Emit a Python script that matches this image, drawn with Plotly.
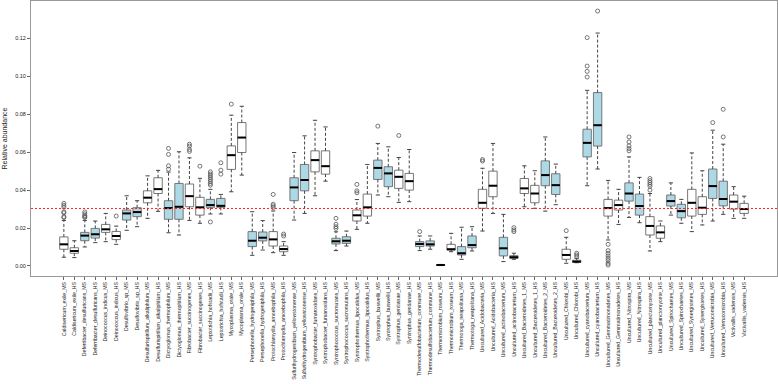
import plotly.graph_objects as go

names = [
    "Caldisericum_exile_MS", "Caldisericum_exile_HS",
    "Deferribacter_desulfuricans_MS", "Deferribacter_desulfuricans_HS",
    "Deinococcus_indicus_MS", "Deinococcus_indicus_HS",
    "Desulfovibrio_sp_MS", "Desulfovibrio_sp_HS",
    "Desulfurispirillum_alkaliphilum_MS", "Desulfurispirillum_alkaliphilum_HS",
    "Dictyoglomus_thermophilum_MS", "Dictyoglomus_thermophilum_HS",
    "Fibrobacter_succinogenes_MS", "Fibrobacter_succinogenes_HS",
    "Leptotrichia_hofstadii_MS", "Leptotrichia_hofstadii_HS",
    "Mycoplasma_orale_MS", "Mycoplasma_orale_HS",
    "Persephonella_hydrogeniphila_MS", "Persephonella_hydrogeniphila_HS",
    "Protochlamydia_amoebophila_MS", "Protochlamydia_amoebophila_HS",
    "Sulfurihydrogenibium_yellowstonense_MS", "Sulfurihydrogenibium_yellowstonense_HS",
    "Syntrophobacter_fumaroxidans_MS", "Syntrophobacter_fumaroxidans_HS",
    "Syntrophococcus_sucromutans_MS", "Syntrophococcus_sucromutans_HS",
    "Syntrophothermus_lipocalidus_MS", "Syntrophothermus_lipocalidus_HS",
    "Syntrophus_buswellii_MS", "Syntrophus_buswellii_HS",
    "Syntrophus_gentianae_MS", "Syntrophus_gentianae_HS",
    "Thermodesulfobacterium_commune_MS", "Thermodesulfobacterium_commune_HS",
    "Thermomicrobium_roseum_MS", "Thermomicrobium_roseum_HS",
    "Thermotoga_neapolitana_MS", "Thermotoga_neapolitana_HS",
    "Uncultured_Acidobacteria_MS", "Uncultured_Acidobacteria_HS",
    "Uncultured_actinobacterium_MS", "Uncultured_actinobacterium_HS",
    "Uncultured_Bacteroidetes_1_MS", "Uncultured_Bacteroidetes_1_HS",
    "Uncultured_Bacteroidetes_2_MS", "Uncultured_Bacteroidetes_2_HS",
    "Uncultured_Chlorobi_MS", "Uncultured_Chlorobi_HS",
    "Uncultured_cyanobacterium_MS", "Uncultured_cyanobacterium_HS",
    "Uncultured_Gemmatimonadetes_MS", "Uncultured_Gemmatimonadetes_HS",
    "Uncultured_Nitrospira_MS", "Uncultured_Nitrospira_HS",
    "Uncultured_planctomycete_MS", "Uncultured_planctomycete_HS",
    "Uncultured_Spirochaetes_MS", "Uncultured_Spirochaetes_HS",
    "Uncultured_Synergistetes_MS", "Uncultured_Synergistetes_HS",
    "Uncultured_Verrucomicrobia_MS", "Uncultured_Verrucomicrobia_HS",
    "Victivallis_vadensis_MS", "Victivallis_vadensis_HS",
]

lower = [0.0046, 0.0044, 0.0100, 0.0123, 0.0128, 0.0114, 0.0188, 0.0207, 0.0251, 0.0288,
         0.0175, 0.0163, 0.0240, 0.0225, 0.0274, 0.0274, 0.0391, 0.0479, 0.0056, 0.0084,
         0.0070, 0.0056, 0.0242, 0.0277, 0.0370, 0.0447, 0.0081, 0.0105, 0.0193, 0.0225,
         0.0374, 0.0365, 0.0335, 0.0339, 0.0081, 0.0088, 0.0002, 0.0075, 0.0035, 0.0079,
         0.0184, 0.0277, 0.0023, 0.0035, 0.0312, 0.0304, 0.0289, 0.0323, 0.0014, 0.0017,
         0.0423, 0.0511, 0.0137, 0.0219, 0.0256, 0.0228, 0.0079, 0.0128, 0.0268, 0.0225,
         0.0181, 0.0216, 0.0237, 0.0272, 0.0251, 0.0251]
q1 = [0.0088, 0.0067, 0.0133, 0.0147, 0.0177, 0.0139, 0.0242, 0.0260, 0.0333, 0.0382,
      0.0246, 0.0246, 0.0312, 0.0268, 0.0309, 0.0309, 0.0509, 0.0598, 0.0102, 0.0132,
      0.0105, 0.0075, 0.0344, 0.0396, 0.0496, 0.0484, 0.0116, 0.0119, 0.0237, 0.0263,
      0.0456, 0.0418, 0.0409, 0.0400, 0.0102, 0.0105, 0.0004, 0.0084, 0.0058, 0.0096,
      0.0304, 0.0365, 0.0053, 0.0040, 0.0382, 0.0333, 0.0423, 0.0377, 0.0035, 0.0019,
      0.0575, 0.0632, 0.0263, 0.0295, 0.0342, 0.0268, 0.0163, 0.0146, 0.0316, 0.0254,
      0.0263, 0.0272, 0.0356, 0.0317, 0.0300, 0.0277]
median = [0.0114, 0.0079, 0.0160, 0.0167, 0.0193, 0.0158, 0.0277, 0.0284, 0.0360, 0.0405,
          0.0305, 0.0312, 0.0368, 0.0309, 0.0321, 0.0317, 0.0584, 0.0677, 0.0133, 0.0149,
          0.0140, 0.0089, 0.0414, 0.0453, 0.0558, 0.0526, 0.0130, 0.0133, 0.0267, 0.0309,
          0.0517, 0.0488, 0.0470, 0.0447, 0.0116, 0.0114, 0.0005, 0.0088, 0.0067, 0.0110,
          0.0333, 0.0423, 0.0093, 0.0046, 0.0409, 0.0382, 0.0479, 0.0426, 0.0058, 0.0023,
          0.0649, 0.0742, 0.0305, 0.0321, 0.0382, 0.0316, 0.0211, 0.0177, 0.0342, 0.0289,
          0.0333, 0.0307, 0.0421, 0.0353, 0.0339, 0.0300]
q3 = [0.0153, 0.0096, 0.0177, 0.0198, 0.0219, 0.0182, 0.0295, 0.0307, 0.0396, 0.0465,
      0.0344, 0.0435, 0.0432, 0.0362, 0.0351, 0.0356, 0.0633, 0.0756, 0.0181, 0.0179,
      0.0181, 0.0105, 0.0465, 0.0535, 0.0607, 0.0607, 0.0146, 0.0154, 0.0295, 0.0379,
      0.0558, 0.0523, 0.0505, 0.0488, 0.0128, 0.0132, 0.0006, 0.0114, 0.0102, 0.0158,
      0.0404, 0.0500, 0.0151, 0.0054, 0.0461, 0.0425, 0.0554, 0.0486, 0.0088, 0.0030,
      0.0721, 0.0914, 0.0351, 0.0347, 0.0438, 0.0379, 0.0260, 0.0211, 0.0374, 0.0325,
      0.0404, 0.0365, 0.0511, 0.0447, 0.0374, 0.0330]
upper = [0.0240, 0.0133, 0.0240, 0.0237, 0.0277, 0.0210, 0.0370, 0.0344, 0.0475, 0.0504,
         0.0495, 0.0602, 0.0570, 0.0462, 0.0404, 0.0377, 0.0795, 0.0842, 0.0286, 0.0239,
         0.0290, 0.0128, 0.0598, 0.0686, 0.0768, 0.0733, 0.0180, 0.0184, 0.0350, 0.0535,
         0.0646, 0.0628, 0.0572, 0.0614, 0.0158, 0.0158, 0.0008, 0.0172, 0.0204, 0.0207,
         0.0515, 0.0646, 0.0272, 0.0067, 0.0528, 0.0502, 0.0680, 0.0537, 0.0151, 0.0040,
         0.0926, 0.1228, 0.0451, 0.0404, 0.0575, 0.0467, 0.0382, 0.0237, 0.0438, 0.0351,
         0.0596, 0.0502, 0.0716, 0.0642, 0.0418, 0.0368]

# outliers: (category index 1-based, value)
outlier_idx = [1, 1, 1, 1, 1, 1, 1,
               3, 3, 3, 3, 3,
               6,
               11, 11, 11, 11,
               13, 13, 13, 13,
               14,
               15, 15, 15, 15, 15, 15, 15, 15, 15,
               16, 16, 16,
               17,
               21, 21, 21, 21,
               22, 22,
               27, 27, 27, 27,
               29, 29, 29,
               31, 33, 35,
               41, 41,
               44, 44, 44,
               49,
               50, 50, 50,
               51, 51, 51, 51, 52,
               53, 53, 53, 53, 53, 53, 53, 53,
               55, 55, 55, 55, 55,
               57, 57, 57, 57, 57, 57,
               63, 64, 64]
outlier_val = [0.0255, 0.0260, 0.0280, 0.0285, 0.0310, 0.0320, 0.0330,
               0.0255, 0.0260, 0.0265, 0.0275, 0.0285,
               0.0263,
               0.0510, 0.0528, 0.0588, 0.0620,
               0.0604, 0.0614, 0.0632, 0.0642,
               0.0526,
               0.0232, 0.0426, 0.0435, 0.0445, 0.0455, 0.0465, 0.0475, 0.0485, 0.0496,
               0.0484, 0.0505, 0.0544,
               0.0853,
               0.0308, 0.0317, 0.0325, 0.0377,
               0.0158, 0.0168,
               0.0198, 0.0207, 0.0220, 0.0251,
               0.0386, 0.0396, 0.0430,
               0.0737, 0.0688, 0.0181,
               0.0553, 0.0561,
               0.0181, 0.0190, 0.0202,
               0.0186,
               0.0049, 0.0058, 0.0067,
               0.0996, 0.1026, 0.1054, 0.1204, 0.1344,
               0.0114, 0.0081, 0.0067, 0.0053, 0.0040, 0.0028, 0.0014, 0.0005,
               0.0607, 0.0619, 0.0633, 0.0654, 0.0680,
               0.0400, 0.0420, 0.0430, 0.0440, 0.0450, 0.0461,
               0.0756, 0.0680, 0.0826]

ref_line = 0.0303
y_ticks = [0.00, 0.02, 0.04, 0.06, 0.08, 0.10, 0.12]
y_tick_text = ["0.00", "0.02", "0.04", "0.06", "0.08", "0.10", "0.12"]

n = len(names)
pos = list(range(1, n + 1))
blue = [((i - 1) // 2) % 2 == 1 for i in pos]
BW = 0.8
CAP = 0.2

fig = go.Figure()

# whiskers (dashed) and caps
wx, wy, cx, cy = [], [], [], []
for i in range(n):
    p = pos[i]
    wx += [p, p, None, p, p, None]
    wy += [q3[i], upper[i], None, q1[i], lower[i], None]
    cx += [p - CAP, p + CAP, None, p - CAP, p + CAP, None]
    cy += [upper[i], upper[i], None, lower[i], lower[i], None]
fig.add_trace(go.Scatter(x=wx, y=wy, mode="lines", line=dict(color="#444", width=1, dash="3px,2px"),
                         hoverinfo="skip", showlegend=False))
fig.add_trace(go.Scatter(x=cx, y=cy, mode="lines", line=dict(color="#444", width=1),
                         hoverinfo="skip", showlegend=False))

for flag, fill in [(False, "white"), (True, "#ADD8E6")]:
    idx = [i for i in range(n) if blue[i] == flag]
    fig.add_trace(go.Box(
        x=[pos[i] for i in idx],
        q1=[q1[i] for i in idx],
        median=[median[i] for i in idx],
        q3=[q3[i] for i in idx],
        lowerfence=[q1[i] for i in idx],
        upperfence=[q3[i] for i in idx],
        width=BW, fillcolor=fill, line=dict(color="#777", width=1),
        whiskerwidth=0, boxpoints=False, hoverinfo="skip", showlegend=False))

# medians
mx, my = [], []
for i in range(n):
    mx += [pos[i] - BW / 2, pos[i] + BW / 2, None]
    my += [median[i], median[i], None]
fig.add_trace(go.Scatter(x=mx, y=my, mode="lines", line=dict(color="black", width=2),
                         hoverinfo="skip", showlegend=False))

# outliers
fig.add_trace(go.Scatter(x=outlier_idx, y=outlier_val, mode="markers",
                         marker=dict(symbol="circle-open", size=4, color="#555", line=dict(width=0.8)),
                         hoverinfo="skip", showlegend=False))

fig.add_shape(type="line", xref="paper", x0=0, x1=1, yref="y", y0=ref_line, y1=ref_line,
              line=dict(color="#f22", width=1, dash="2px,2px"))

fig.update_layout(
    width=778, height=384,
    margin=dict(l=31, r=1, t=1, b=108),
    paper_bgcolor="white", plot_bgcolor="white",
    hovermode=False,
    font=dict(family="Liberation Sans, Arial, sans-serif", color="#222"),
    xaxis=dict(range=[-2.14, 69.14], tickmode="array", tickvals=pos, ticktext=names,
               tickangle=-90, tickfont=dict(size=5.2), ticks="outside", ticklen=3,
               tickcolor="#666", showgrid=False, zeroline=False, showline=True, mirror=True,
               linecolor="#999", linewidth=1, automargin=False),
    yaxis=dict(range=[-0.0053, 0.1397], tickmode="array", tickvals=y_ticks, ticktext=y_tick_text,
               tickfont=dict(size=5.5), ticks="outside", ticklen=3, tickcolor="#666",
               showgrid=False, zeroline=False, showline=True, mirror=True,
               linecolor="#999", linewidth=1, automargin=False,
               title=dict(text="Relative abundance", font=dict(size=7), standoff=6)),
)

fig.write_html("out.html", config={"displayModeBar": False, "staticPlot": True},
               post_script="document.body.style.margin='0';document.body.style.overflow='hidden';")
